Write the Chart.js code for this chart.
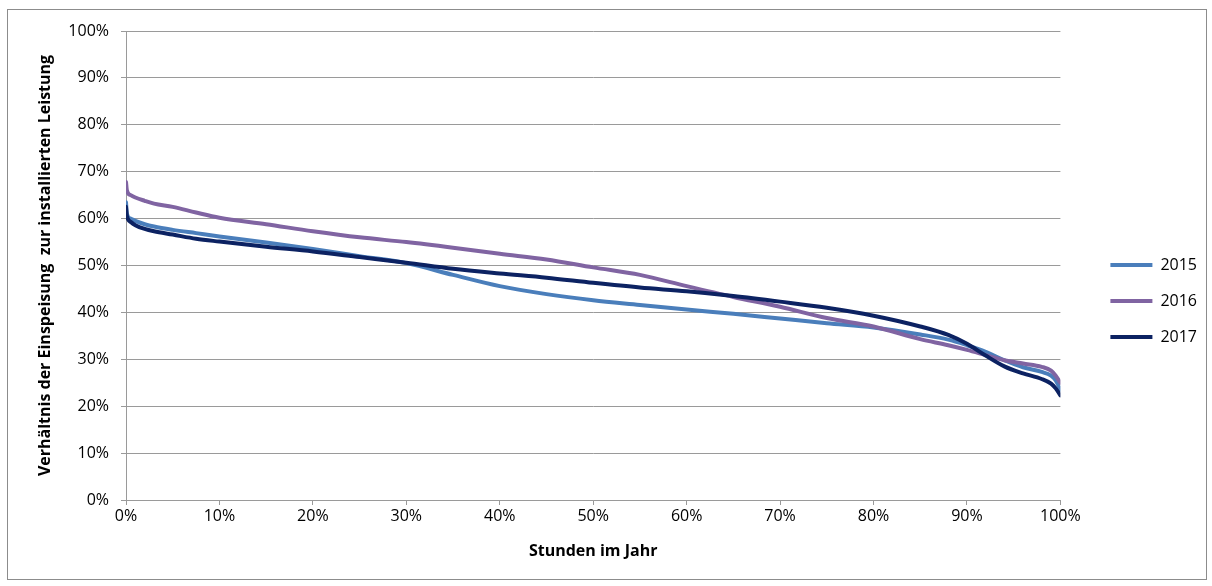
<!DOCTYPE html>
<html lang="de">
<head>
    <meta charset="UTF-8">
    <title>Einspeisung</title>
    <script src="https://cdn.jsdelivr.net/npm/chart.js"></script>
    <style>
        body { margin: 0; background: #fff; }
        #wrap { width: 1212px; height: 586px; }
    </style>
</head>
<body>
    <div id="wrap"><canvas id="myChart"></canvas></div>
    <script>
        // Anteil der Stunden im Jahr (%)
        const hourShare = [0, 0.1, 0.5, 1, 2, 3, 5, 7.5, 10, 15, 20, 25, 30, 35, 40, 45, 50, 55, 60, 65, 70, 75, 80, 85, 88, 90, 92, 94, 96, 98, 99, 99.5, 100];

        // Verhältnis Einspeisung / installierte Leistung (%)
        const share2015 = [63.5, 61, 60, 59.5, 58.8, 58.3, 57.6, 56.9, 56.2, 54.9, 53.5, 52, 50.5, 48, 45.6, 43.9, 42.6, 41.6, 40.6, 39.7, 38.7, 37.7, 36.8, 35.3, 34.2, 33, 31.6, 29.8, 28.3, 27.3, 26.5, 25.5, 23.5];
        const share2016 = [67.8, 66, 65, 64.5, 63.8, 63.2, 62.5, 61.3, 60.2, 58.8, 57.3, 56, 55, 53.8, 52.5, 51.3, 49.6, 48, 45.6, 43.3, 41.2, 38.8, 37, 34.3, 33, 32, 30.9, 29.8, 29.1, 28.4, 27.6, 26.5, 25];
        const share2017 = [62.5, 60.5, 59.3, 58.6, 57.8, 57.3, 56.6, 55.7, 55.1, 54, 53, 51.8, 50.6, 49.3, 48.3, 47.4, 46.3, 45.3, 44.5, 43.5, 42.3, 41, 39.3, 37, 35.2, 33.3, 30.8, 28.5, 27, 25.8, 24.8, 23.8, 22.3];

        const years = ['2015', '2016', '2017'];
        const colors = ['#4A7EBB', '#8064A2', '#0C2262'];
        const series = [share2015, share2016, share2017];

        const tickFont = { family: 'Open Sans', size: 16 };
        const gridColor = '#9a9a9a';

        const frame = {
            id: 'frame',
            beforeDraw(chart) {
                const c = chart.ctx;
                c.save();
                c.fillStyle = '#fff';
                c.fillRect(0, 0, chart.width, chart.height);
                c.strokeStyle = '#8c8c8c';
                c.lineWidth = 1;
                c.strokeRect(7.5, 9.5, 1199, 570);
                c.restore();
            }
        };

        const ctx = document.getElementById('myChart').getContext('2d');
        new Chart(ctx, {
            type: 'line',
            data: {
                datasets: years.map((y, i) => ({
                    label: y,
                    data: hourShare.map((h, j) => ({ x: h, y: series[i][j] })),
                    borderColor: colors[i],
                    backgroundColor: colors[i],
                    borderWidth: 4,
                    borderCapStyle: 'round',
                    pointRadius: 0,
                    pointStyle: 'line',
                    cubicInterpolationMode: 'monotone',
                    fill: false,
                    order: 3 - i
                }))
            },
            options: {
                responsive: true,
                maintainAspectRatio: false,
                animation: false,
                layout: { padding: { left: 0, top: 31, right: 5, bottom: 15 } },
                plugins: {
                    tooltip: { enabled: false },
                    legend: {
                        position: 'right',
                        labels: {
                            usePointStyle: true,
                            pointStyleWidth: 42,
                            padding: 20,
                            color: '#000',
                            font: tickFont,
                            sort: (a, b) => a.datasetIndex - b.datasetIndex
                        }
                    }
                },
                scales: {
                    x: {
                        type: 'linear',
                        min: 0,
                        max: 100,
                        ticks: { stepSize: 10, callback: v => v + '%', color: '#000', font: tickFont, padding: 2, maxRotation: 0 },
                        grid: { drawOnChartArea: false, color: gridColor, tickLength: 5 },
                        border: { color: gridColor },
                        title: { display: true, text: 'Stunden im Jahr', color: '#000', font: { family: 'Open Sans', size: 16, weight: 'bold' }, padding: { top: 4, bottom: 10 } },
                        afterFit: s => { s.height = 71; }
                    },
                    y: {
                        min: 0,
                        max: 100,
                        ticks: { stepSize: 10, callback: v => v + '%', color: '#000', font: tickFont, padding: 12 },
                        grid: { color: gridColor, tickLength: 5 },
                        border: { color: gridColor },
                        title: { display: true, text: 'Verhältnis der Einspeisung  zur installierten Leistung', color: '#000', font: { family: 'Open Sans', size: 16, weight: 'bold' }, padding: { top: 36, bottom: 0 } },
                        afterFit: s => { s.width = 126; }
                    },
                    gap: {
                        position: 'right',
                        display: true,
                        ticks: { display: false },
                        grid: { display: false },
                        border: { display: false },
                        afterFit: s => { s.width = 30; }
                    }
                }
            },
            plugins: [frame]
        });
    </script>
</body>
</html>
